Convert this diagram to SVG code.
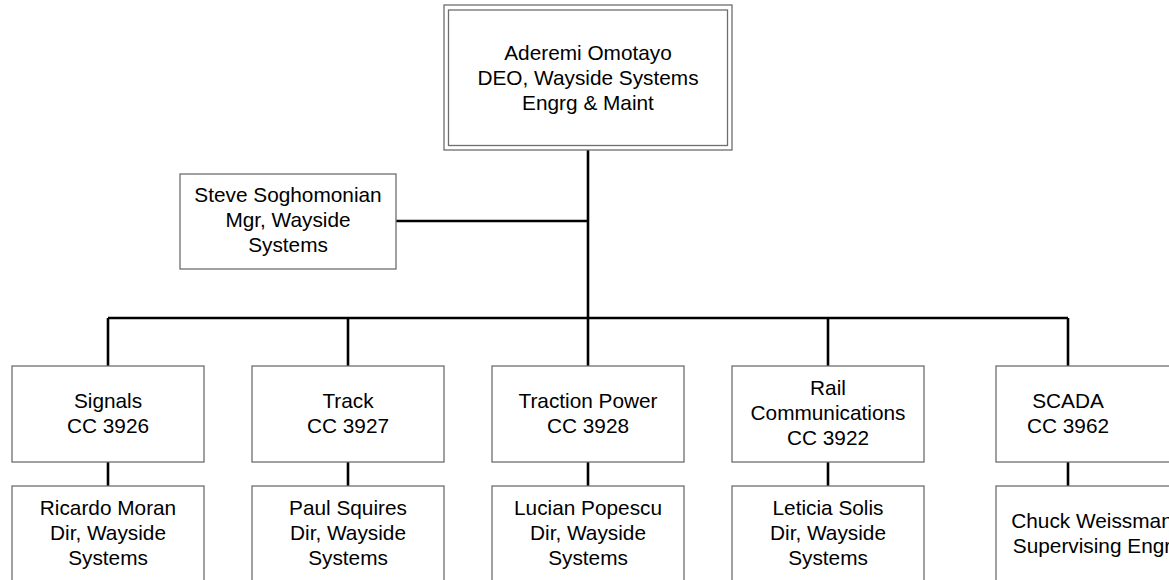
<svg xmlns="http://www.w3.org/2000/svg" width="1169" height="580" viewBox="0 0 1169 580">
<style>
.box{fill:#fff;stroke:#6e6e6e;stroke-width:1.3}
.t{font-family:"Liberation Sans",Arial,sans-serif;font-size:20.8px;fill:#000;text-anchor:middle}
.c{fill:none;stroke:#000;stroke-width:2.6}
</style>
<rect width="1169" height="580" fill="#fff"/>
<g id="connectors">
<path class="c" d="M588 150V318M396 221H588M108 318H1068M108 318V366M348 318V366M588 318V366M828 318V366M1068 318V366M108 462V486M348 462V486M588 462V486M828 462V486M1068 462V486"/>
</g>
<g id="n-omotayo">
<rect class="box" x="444" y="5" width="288" height="145"/>
<rect class="box" x="448.5" y="10" width="279" height="135.5"/>
<text class="t" x="588" y="60">Aderemi Omotayo</text>
<text class="t" x="588" y="85">DEO, Wayside Systems</text>
<text class="t" x="588" y="110">Engrg &amp; Maint</text>
</g>
<g id="n-soghomonian">
<rect class="box" x="180" y="174" width="216" height="95"/>
<text class="t" x="288" y="202">Steve Soghomonian</text>
<text class="t" x="288" y="227">Mgr, Wayside</text>
<text class="t" x="288" y="252">Systems</text>
</g>
<g id="n-signals">
<rect class="box" x="12" y="366" width="192" height="96"/>
<text class="t" x="108" y="408">Signals</text>
<text class="t" x="108" y="433">CC 3926</text>
</g>
<g id="n-track">
<rect class="box" x="252" y="366" width="192" height="96"/>
<text class="t" x="348" y="408">Track</text>
<text class="t" x="348" y="433">CC 3927</text>
</g>
<g id="n-traction">
<rect class="box" x="492" y="366" width="192" height="96"/>
<text class="t" x="588" y="408">Traction Power</text>
<text class="t" x="588" y="433">CC 3928</text>
</g>
<g id="n-railcomm">
<rect class="box" x="732" y="366" width="192" height="96"/>
<text class="t" x="828" y="395">Rail</text>
<text class="t" x="828" y="420">Communications</text>
<text class="t" x="828" y="445">CC 3922</text>
</g>
<g id="n-scada">
<rect class="box" x="996" y="366" width="192" height="96"/>
<text class="t" x="1068" y="408">SCADA</text>
<text class="t" x="1068" y="433">CC 3962</text>
</g>
<g id="n-moran">
<rect class="box" x="12" y="486" width="192" height="96"/>
<text class="t" x="108" y="515">Ricardo Moran</text>
<text class="t" x="108" y="540">Dir, Wayside</text>
<text class="t" x="108" y="565">Systems</text>
</g>
<g id="n-squires">
<rect class="box" x="252" y="486" width="192" height="96"/>
<text class="t" x="348" y="515">Paul Squires</text>
<text class="t" x="348" y="540">Dir, Wayside</text>
<text class="t" x="348" y="565">Systems</text>
</g>
<g id="n-popescu">
<rect class="box" x="492" y="486" width="192" height="96"/>
<text class="t" x="588" y="515">Lucian Popescu</text>
<text class="t" x="588" y="540">Dir, Wayside</text>
<text class="t" x="588" y="565">Systems</text>
</g>
<g id="n-solis">
<rect class="box" x="732" y="486" width="192" height="96"/>
<text class="t" x="828" y="515">Leticia Solis</text>
<text class="t" x="828" y="540">Dir, Wayside</text>
<text class="t" x="828" y="565">Systems</text>
</g>
<g id="n-weissman">
<rect class="box" x="996" y="486" width="192" height="96"/>
<text class="t" x="1092" y="527.5">Chuck Weissman</text>
<text class="t" x="1092" y="552.5">Supervising Engr</text>
</g>
</svg>
